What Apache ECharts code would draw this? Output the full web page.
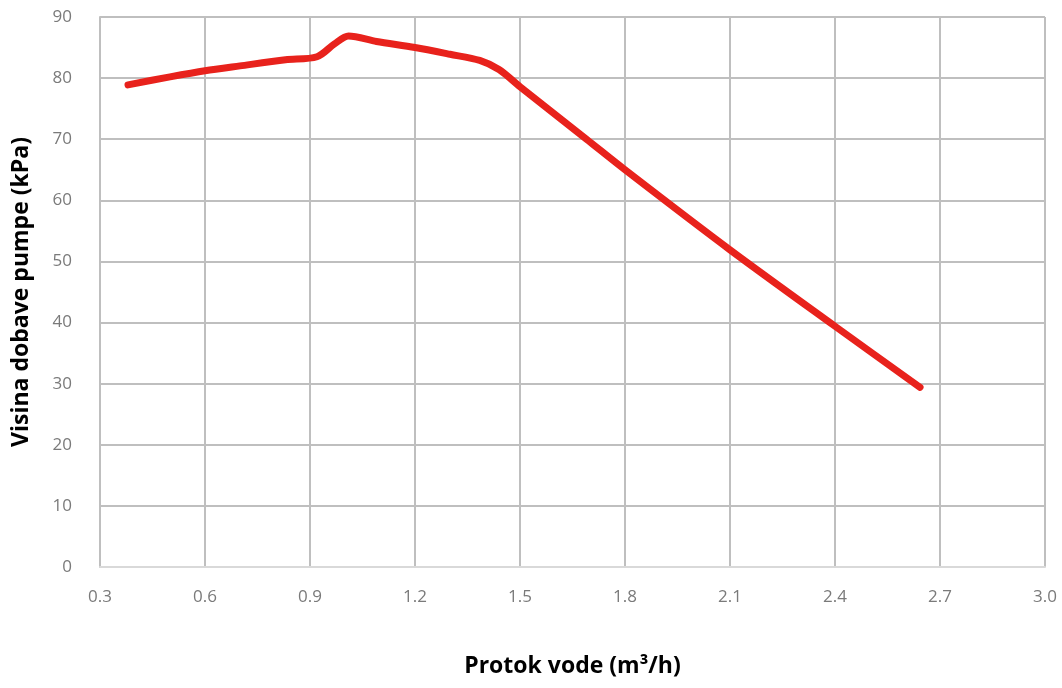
<!DOCTYPE html>
<html>
<head>
<meta charset="utf-8">
<script src="https://cdn.jsdelivr.net/npm/echarts@6/dist/echarts.min.js"></script>
<style>html,body{margin:0;padding:0;background:#fff}#c{width:1062px;height:688px}</style>
</head>
<body>
<div id="c"></div>
<script>
const flow = [0.38, 0.5, 0.6, 0.7, 0.83, 0.92, 0.97, 1.01, 1.09, 1.2, 1.3, 1.385, 1.44, 1.5, 1.69, 1.8, 2.1, 2.4, 2.643];
const head = [78.9, 80.2, 81.2, 82.0, 83.0, 83.5, 85.6, 86.9, 86.0, 85.0, 83.9, 82.9, 81.4, 78.6, 70.0, 65.0, 51.9, 39.4, 29.4];
const xTitle = 'Protok vode (m³/h)';
const yTitle = 'Visina dobave pumpe (kPa)';

const chart = echarts.init(document.getElementById('c'));
chart.setOption({
  animation: false,
  grid: {left: 100, right: 17, top: 17, bottom: 121, containLabel: false, outerBoundsMode: 'none'},
  xAxis: {
    type: 'value', min: 0.3, max: 3.0, interval: 0.3,
    name: xTitle, nameLocation: 'middle', nameGap: 88,
    nameTextStyle: {fontFamily: 'Open Sans', fontWeight: 'bold', fontSize: 23, color: '#000'},
    axisLine: {show: true, lineStyle: {color: '#d9d9d9', width: 2}},
    axisTick: {show: false},
    axisLabel: {color: '#7a7a7a', fontSize: 17, fontFamily: 'Open Sans', margin: 22,
      formatter: v => v.toFixed(1)},
    splitLine: {show: true, lineStyle: {color: '#bfbfbf', width: 2}}
  },
  yAxis: {
    type: 'value', min: 0, max: 90, interval: 10,
    name: yTitle, nameLocation: 'middle', nameGap: 67,
    nameTextStyle: {fontFamily: 'Open Sans', fontWeight: 'bold', fontSize: 23, color: '#000'},
    axisLine: {show: true, lineStyle: {color: '#bfbfbf', width: 2}},
    axisTick: {show: false},
    axisLabel: {color: '#7a7a7a', fontSize: 17, fontFamily: 'Open Sans', margin: 28},
    splitLine: {show: true, lineStyle: {color: '#bfbfbf', width: 2}}
  },
  series: [{
    type: 'line',
    data: flow.map((x, i) => [x, head[i]]),
    smooth: 0.3,
    showSymbol: false,
    lineStyle: {color: '#e8221c', width: 7, cap: 'round', join: 'round'}
  }]
});
</script>
</body>
</html>
